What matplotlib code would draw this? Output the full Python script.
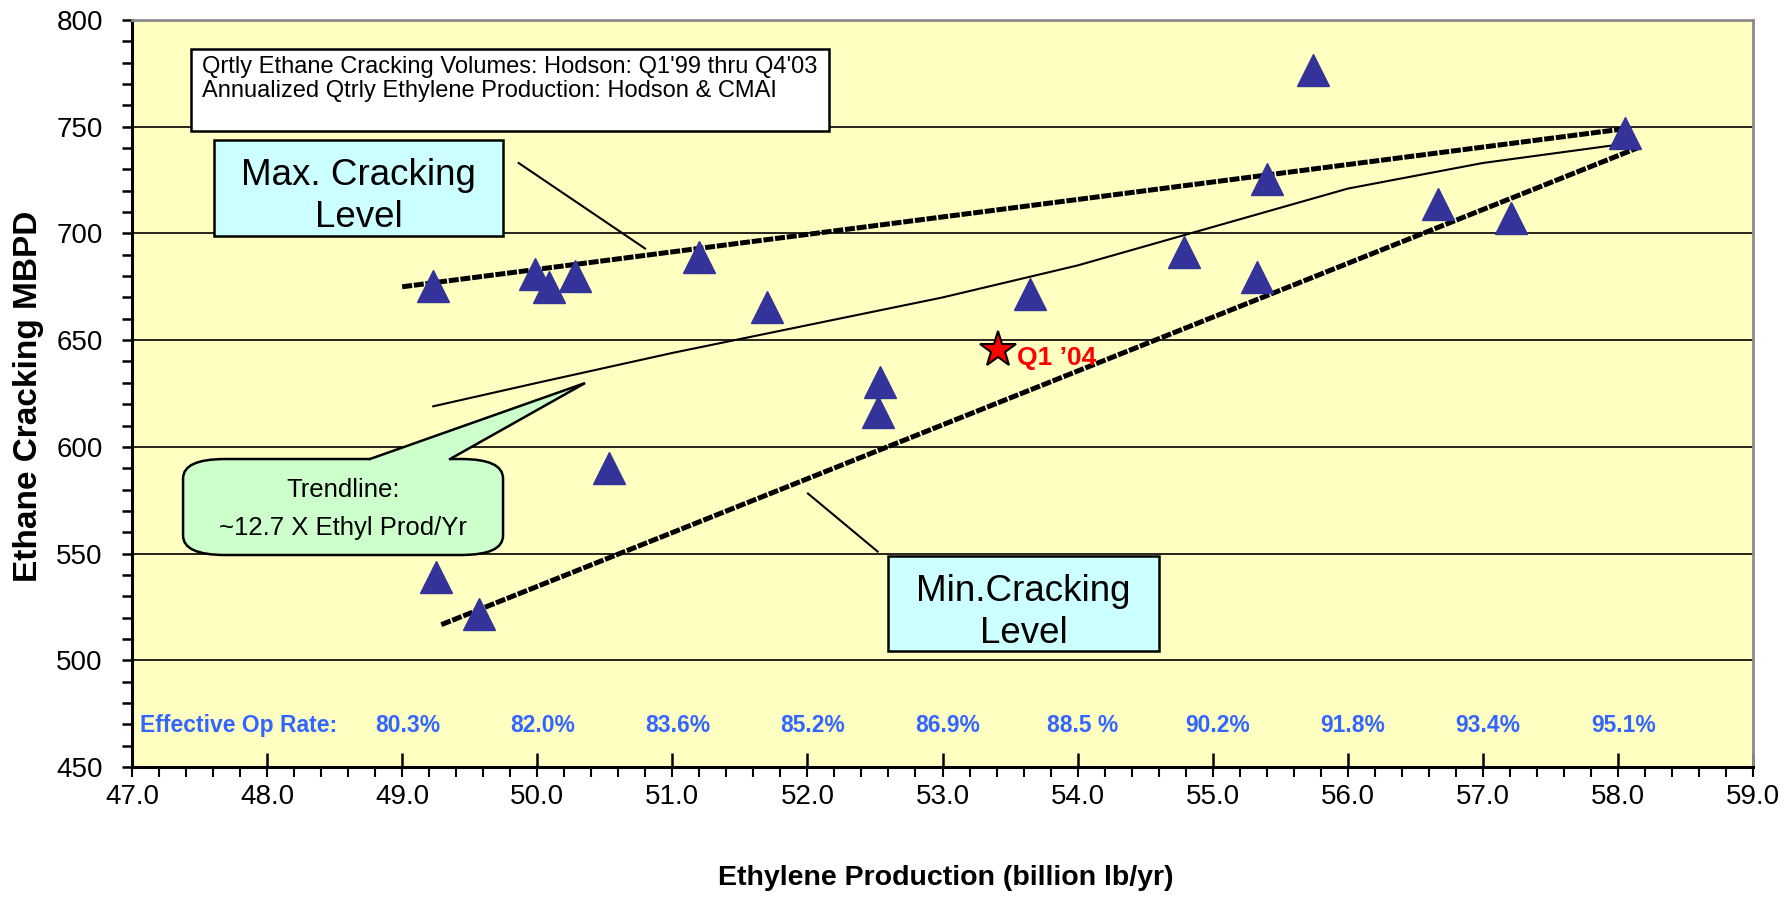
import matplotlib
matplotlib.use("Agg")
import matplotlib.pyplot as plt
from matplotlib.patches import Rectangle, FancyBboxPatch, Polygon
from matplotlib.ticker import MultipleLocator, FormatStrFormatter

plt.rcParams['font.family'] = ['Liberation Sans', 'DejaVu Sans']

# quarterly points, Q1'99 - Q4'03
ethylene = [49.23, 49.98, 50.09, 50.28, 51.20, 51.70, 50.53, 52.52, 52.54, 53.65,
            49.25, 49.57, 54.79, 55.33, 55.40, 55.74, 56.67, 57.21, 58.05]
ethane = [675.2, 680.8, 674.7, 680.1, 689.0, 665.7, 589.9, 616.1, 630.5, 671.6,
          539.2, 521.5, 691.4, 679.6, 725.5, 776.8, 713.8, 707.4, 746.9]

# Q1 '04
q1_04_ethylene = 53.41
q1_04_ethane = 645.4

# max / min cracking envelopes
max_x = [49.0, 58.07]
max_y = [675.0, 749.2]
min_x = [49.29, 58.15]
min_y = [516.7, 740.2]

# trendline
trend_x = [49.23, 50.0, 51.0, 52.0, 53.0, 54.0, 55.0, 56.0, 57.0, 58.05]
trend_y = [619.0, 630.0, 644.0, 657.0, 670.0, 685.0, 703.0, 721.0, 733.0, 742.0]

# effective operating rate row
op_rate_x = [49.0, 50.0, 51.0, 52.0, 53.0, 54.0, 55.0, 56.0, 57.0, 58.0]
op_rate_labels = ['80.3%', '82.0%', '83.6%', '85.2%', '86.9%', '88.5 %',
                  '90.2%', '91.8%', '93.4%', '95.1%']
op_rate_y = 469.5

fig = plt.figure(figsize=(17.87, 9.02), dpi=100)
ax = fig.add_axes([132 / 1787, 1 - 767 / 902, 1621 / 1787, 747 / 902])
ax.set_facecolor('#FFFFC2')

ax.set_xlim(47, 59)
ax.set_ylim(450, 800)

# grid at the major y ticks only
for v in range(500, 800, 50):
    ax.axhline(v, color='black', lw=1.2, zorder=1)

ax.xaxis.set_major_locator(MultipleLocator(1))
ax.xaxis.set_minor_locator(MultipleLocator(0.2))
ax.xaxis.remove_overlapping_locs = False
ax.xaxis.set_major_formatter(FormatStrFormatter('%.1f'))
ax.yaxis.set_major_locator(MultipleLocator(50))
ax.yaxis.set_minor_locator(MultipleLocator(10))
ax.tick_params(axis='x', which='major', direction='in', length=10, width=1.8,
               labelsize=20, pad=12)
ax.tick_params(axis='x', which='minor', direction='out', length=7, width=1.5)
ax.tick_params(axis='y', which='both', direction='out', length=7, width=1.8,
               labelsize=20, pad=14)

for s in ['left', 'bottom']:
    ax.spines[s].set_color('black')
    ax.spines[s].set_linewidth(2.2)
for s in ['top', 'right']:
    ax.spines[s].set_color('#8C8C8C')
    ax.spines[s].set_linewidth(2.0)

# envelopes and trendline
ax.plot(max_x, max_y, color='black', lw=3.6, linestyle=(0, (2, 0.35)), zorder=3)
ax.plot(min_x, min_y, color='black', lw=3.6, linestyle=(0, (2, 0.35)), zorder=3)
ax.plot(trend_x, trend_y, color='black', lw=1.5, zorder=3)

ax.plot(ethylene, ethane, linestyle='none', marker='^', ms=23,
        color='#333399', markeredgecolor='#333399', zorder=4)

ax.plot([q1_04_ethylene], [q1_04_ethane], linestyle='none', marker='*', ms=27,
        markerfacecolor='red', markeredgecolor='black', markeredgewidth=1.5, zorder=5)
ax.annotate('Q1 \u201904', (q1_04_ethylene, q1_04_ethane), xytext=(14, -6),
            textcoords='offset points', ha='left', va='center',
            color='red', fontsize=19, fontweight='bold', zorder=6)

# operating rate row
ax.text(47.06, op_rate_y, 'Effective Op Rate:', color='#3366FF', fontsize=16.5,
        fontweight='bold', ha='left', va='center')
for x, lab in zip(op_rate_x, op_rate_labels):
    ax.text(x + 0.04, op_rate_y, lab, color='#3366FF', fontsize=16.5,
            fontweight='bold', ha='center', va='center')

# source note
ax.add_patch(Rectangle((0.0364, 0.8514), 0.3936, 0.1098, transform=ax.transAxes,
                       facecolor='white', edgecolor='black', lw=1.8, zorder=6))
ax.text(0.043, 0.937, "Qrtly Ethane Cracking Volumes: Hodson: Q1'99 thru Q4'03",
        transform=ax.transAxes, fontsize=17, ha='left', va='center', zorder=7)
ax.text(0.043, 0.9047, 'Annualized Qtrly Ethylene Production: Hodson & CMAI',
        transform=ax.transAxes, fontsize=17, ha='left', va='center', zorder=7)

# max cracking callout
ax.add_patch(Rectangle((0.0507, 0.7108), 0.1783, 0.1286, transform=ax.transAxes,
                       facecolor='#CCFFFF', edgecolor='black', lw=1.8, zorder=6))
ax.text(0.1397, 0.7925, 'Max. Cracking', transform=ax.transAxes, fontsize=26.5,
        ha='center', va='center', zorder=7)
ax.text(0.1397, 0.735, 'Level', transform=ax.transAxes, fontsize=26.5,
        ha='center', va='center', zorder=7)
ax.plot([0.2385, 0.3165], [0.8086, 0.6941], transform=ax.transAxes,
        color='black', lw=1.5, zorder=6)

# min cracking callout
ax.add_patch(Rectangle((0.4664, 0.1553), 0.1672, 0.1272, transform=ax.transAxes,
                       facecolor='#CCFFFF', edgecolor='black', lw=1.8, zorder=6))
ax.text(0.55, 0.2349, 'Min.Cracking', transform=ax.transAxes, fontsize=26.5,
        ha='center', va='center', zorder=7)
ax.text(0.55, 0.1784, 'Level', transform=ax.transAxes, fontsize=26.5,
        ha='center', va='center', zorder=7)
ax.plot([0.417, 0.46], [0.3661, 0.2884], transform=ax.transAxes,
        color='black', lw=1.5, zorder=6)

# trendline speech bubble
ax.add_patch(FancyBboxPatch((0.0315, 0.2838), 0.1974, 0.1285,
                            boxstyle='round,pad=0,rounding_size=0.026',
                            transform=ax.transAxes, facecolor='#CCFFCC',
                            edgecolor='black', lw=1.8, zorder=6))
tail_tip = (0.2795, 0.514)
tail_l = (0.1468, 0.4123)
tail_r = (0.1962, 0.4123)
ax.add_patch(Polygon([tail_l, tail_tip, tail_r, (0.1962, 0.405), (0.1468, 0.405)],
                     closed=True, transform=ax.transAxes, facecolor='#CCFFCC',
                     edgecolor='none', zorder=7))
ax.plot([tail_l[0], tail_tip[0], tail_r[0]], [tail_l[1], tail_tip[1], tail_r[1]],
        transform=ax.transAxes, color='black', lw=1.8, zorder=7,
        solid_joinstyle='miter')
ax.text(0.13, 0.3708, 'Trendline:', transform=ax.transAxes, fontsize=18.5,
        ha='center', va='center', zorder=8)
ax.text(0.13, 0.32, '~12.7 X Ethyl Prod/Yr', transform=ax.transAxes, fontsize=18.5,
        ha='center', va='center', zorder=8)

fig.text(946 / 1787, 1 - 878 / 902, 'Ethylene Production (billion lb/yr)',
         fontsize=20.5, fontweight='bold', ha='center', va='center')
fig.text(29 / 1787, 1 - 396 / 902, 'Ethane Cracking MBPD', rotation=90,
         fontsize=24, fontweight='bold', ha='center', va='center')

fig.savefig('out.png', dpi=100, facecolor='white')
